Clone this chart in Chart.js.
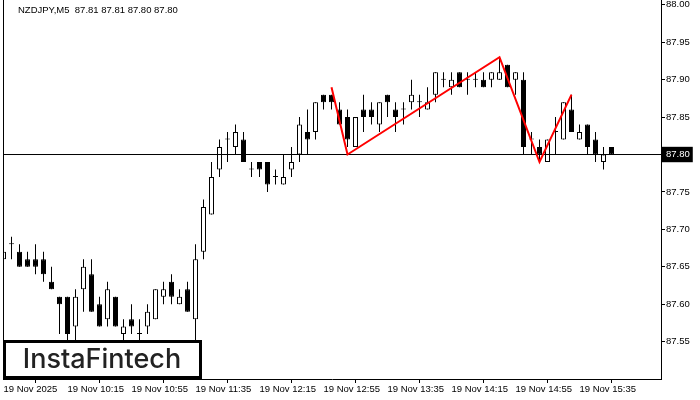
<!DOCTYPE html>
<html>
<head>
<meta charset="utf-8">
<script src="https://cdn.jsdelivr.net/npm/chart.js@4.4.0/dist/chart.umd.min.js"></script>
<style>
    html, body { margin: 0; padding: 0; background: #fff; }
    #wrap { width: 700px; height: 400px; position: relative; }
</style>
</head>
<body>
<div id="wrap"><canvas id="chart"></canvas></div>
<script>
// Chart data (NZDJPY, M5)
const symbol = 'NZDJPY,M5';
const opens = [
    87.66, 87.68, 87.67, 87.66, 87.66, 87.66, 87.63, 87.61, 87.61, 87.57,
    87.62, 87.64, 87.60, 87.58, 87.61, 87.56, 87.58, 87.56, 87.57, 87.58,
    87.61, 87.63, 87.60, 87.62, 87.58, 87.67, 87.72, 87.78, 87.82, 87.81,
    87.82, 87.78, 87.79, 87.79, 87.77, 87.76, 87.78, 87.80, 87.83, 87.83,
    87.88, 87.88, 87.86, 87.85, 87.81, 87.86, 87.86, 87.84, 87.88, 87.86,
    87.86, 87.87, 87.87, 87.86, 87.88, 87.90, 87.89, 87.91, 87.90, 87.90,
    87.90, 87.90, 87.90, 87.92, 87.90, 87.90, 87.82, 87.81, 87.79, 87.83,
    87.82, 87.86, 87.82, 87.84, 87.82, 87.79, 87.81
];
const highs = [
    87.68, 87.69, 87.68, 87.67, 87.68, 87.67, 87.65, 87.61, 87.61, 87.62,
    87.66, 87.66, 87.61, 87.63, 87.61, 87.58, 87.60, 87.58, 87.60, 87.62,
    87.63, 87.64, 87.62, 87.63, 87.68, 87.74, 87.79, 87.82, 87.83, 87.84,
    87.83, 87.79, 87.79, 87.79, 87.78, 87.80, 87.81, 87.85, 87.86, 87.87,
    87.88, 87.88, 87.87, 87.86, 87.85, 87.88, 87.87, 87.87, 87.88, 87.87,
    87.87, 87.90, 87.88, 87.89, 87.91, 87.91, 87.91, 87.91, 87.91, 87.91,
    87.91, 87.91, 87.93, 87.92, 87.91, 87.91, 87.83, 87.82, 87.82, 87.85,
    87.87, 87.88, 87.84, 87.84, 87.83, 87.81, 87.81
];
const lows = [
    87.66, 87.66, 87.65, 87.65, 87.64, 87.63, 87.62, 87.56, 87.55, 87.55,
    87.59, 87.59, 87.57, 87.57, 87.57, 87.55, 87.56, 87.55, 87.56, 87.58,
    87.60, 87.60, 87.60, 87.59, 87.55, 87.66, 87.72, 87.77, 87.79, 87.80,
    87.79, 87.77, 87.77, 87.75, 87.76, 87.76, 87.77, 87.79, 87.80, 87.82,
    87.86, 87.86, 87.84, 87.81, 87.81, 87.83, 87.84, 87.83, 87.85, 87.83,
    87.84, 87.86, 87.85, 87.86, 87.87, 87.89, 87.88, 87.89, 87.88, 87.89,
    87.89, 87.89, 87.90, 87.89, 87.88, 87.80, 87.80, 87.79, 87.79, 87.80,
    87.82, 87.83, 87.82, 87.80, 87.79, 87.78, 87.80
];
const closes = [
    87.67, 87.68, 87.65, 87.65, 87.65, 87.64, 87.62, 87.60, 87.56, 87.61,
    87.65, 87.59, 87.57, 87.62, 87.57, 87.57, 87.57, 87.56, 87.59, 87.62,
    87.62, 87.61, 87.61, 87.59, 87.66, 87.73, 87.77, 87.81, 87.82, 87.83,
    87.79, 87.78, 87.78, 87.76, 87.77, 87.77, 87.79, 87.84, 87.82, 87.87,
    87.87, 87.87, 87.84, 87.82, 87.85, 87.85, 87.85, 87.87, 87.87, 87.85,
    87.86, 87.88, 87.87, 87.87, 87.91, 87.90, 87.90, 87.89, 87.90, 87.90,
    87.89, 87.91, 87.91, 87.89, 87.91, 87.81, 87.82, 87.80, 87.82, 87.83,
    87.87, 87.83, 87.83, 87.81, 87.80, 87.80, 87.80
];

// Axis ticks
const xTickIdx = [0, 8, 16, 24, 32, 40, 48, 56, 64, 72];
const xTickLabels = [
    '19 Nov 2025', '19 Nov 10:15', '19 Nov 10:55', '19 Nov 11:35', '19 Nov 12:15',
    '19 Nov 12:55', '19 Nov 13:35', '19 Nov 14:15', '19 Nov 14:55', '19 Nov 15:35'
];
const yTicks = [87.55, 87.60, 87.65, 87.70, 87.75, 87.80, 87.85, 87.90, 87.95, 88.00];

// Head & shoulders pattern line
const patternIdx = [41, 43, 62, 67, 71];
const patternPrice = [87.89, 87.80, 87.93, 87.79, 87.88];

const bidPrice = 87.80;

// Visible range
const xMin = -0.0625;
const xMax = 82.1875;
const yMin = 87.50;
const yMax = 88.0065;

const tickFont = { family: '"Liberation Sans", Arial, sans-serif', size: 9.5 };

const idx = opens.map((_, i) => i);
const bodies = idx.map(i => ({ x: i, y: [Math.min(opens[i], closes[i]), Math.max(opens[i], closes[i])] }));
const wicks = idx.map(i => ({ x: i, y: [lows[i], highs[i]] }));
const bodyColors = idx.map(i => closes[i] >= opens[i] ? '#ffffff' : '#000000');

// Frame, header text and logo box
const decor = {
    id: 'decor',
    afterDraw(chart) {
        const { ctx, chartArea } = chart;
        ctx.save();
        ctx.strokeStyle = '#000';
        ctx.lineWidth = 1;
        ctx.beginPath();
        ctx.moveTo(chartArea.left + 0.5, chartArea.top);
        ctx.lineTo(chartArea.left + 0.5, chartArea.bottom);
        ctx.stroke();

        const last = opens.length - 1;
        const ohlc = [opens[last], highs[last], lows[last], closes[last]].map(v => v.toFixed(2)).join(' ');
        ctx.fillStyle = '#000';
        ctx.font = '9.5px "Liberation Sans", Arial, sans-serif';
        ctx.textBaseline = 'middle';
        ctx.fillText(symbol + '  ' + ohlc, 18, 10.5);

        ctx.fillStyle = '#fff';
        ctx.fillRect(3, 340, 199, 39);
        ctx.lineWidth = 3;
        ctx.strokeRect(4.5, 341.5, 196, 36);
        ctx.fillStyle = '#222';
        ctx.font = '500 27px Inter, sans-serif';
        ctx.textAlign = 'center';
        ctx.fillText('InstaFintech', 102, 360);
        ctx.restore();
    }
};

const chart = new Chart(document.getElementById('chart').getContext('2d'), {
    type: 'bar',
    data: {
        datasets: [
            {
                type: 'line',
                label: 'Pattern',
                data: patternIdx.map((x, k) => ({ x: x, y: patternPrice[k] })),
                borderColor: '#ff0000',
                borderWidth: 2,
                pointRadius: 0,
                tension: 0,
                order: 0
            },
            {
                type: 'line',
                label: 'Bid',
                data: [{ x: xMin, y: bidPrice }, { x: xMax, y: bidPrice }],
                borderColor: '#000000',
                borderWidth: 1,
                pointRadius: 0,
                order: 1
            },
            {
                label: 'Body',
                data: bodies,
                backgroundColor: bodyColors,
                borderColor: '#000000',
                borderWidth: 1,
                borderSkipped: false,
                barThickness: 5,
                minBarLength: 1,
                grouped: false,
                inflateAmount: 0,
                order: 2
            },
            {
                label: 'Wick',
                data: wicks,
                backgroundColor: '#000000',
                borderWidth: 0,
                barThickness: 1,
                grouped: false,
                inflateAmount: 0,
                order: 3
            }
        ]
    },
    options: {
        responsive: true,
        maintainAspectRatio: false,
        animation: false,
        layout: { padding: { left: 3, top: 0, right: 0, bottom: 0 } },
        plugins: {
            legend: { display: false },
            tooltip: { enabled: false }
        },
        scales: {
            x: {
                type: 'linear',
                min: xMin,
                max: xMax,
                offset: false,
                afterBuildTicks: s => { s.ticks = xTickIdx.map(v => ({ value: v })); },
                afterFit: s => { s.height = 21; s.paddingLeft = 0; s.paddingRight = 0; },
                ticks: {
                    callback: v => xTickLabels[xTickIdx.indexOf(v)],
                    align: 'start',
                    maxRotation: 0,
                    autoSkip: false,
                    padding: 1,
                    color: '#000',
                    font: tickFont
                },
                grid: { drawOnChartArea: false, tickLength: 4, color: '#000' },
                border: { color: '#000', width: 1 }
            },
            y: {
                position: 'right',
                min: yMin,
                max: yMax,
                afterBuildTicks: s => { s.ticks = yTicks.map(v => ({ value: v })); },
                afterFit: s => { s.width = 39; s.paddingTop = 0; s.paddingBottom = 0; },
                ticks: {
                    callback: v => v.toFixed(2),
                    padding: 1,
                    color: c => c.tick && c.tick.value === bidPrice ? '#fff' : '#000',
                    showLabelBackdrop: c => !!(c.tick && c.tick.value === bidPrice),
                    backdropColor: '#000',
                    backdropPadding: { top: 2, bottom: 2, left: 4, right: 3 },
                    font: tickFont
                },
                grid: { drawOnChartArea: false, tickLength: 4, color: '#000' },
                border: { color: '#000', width: 1 }
            }
        }
    },
    plugins: [decor]
});
</script>
</body>
</html>
